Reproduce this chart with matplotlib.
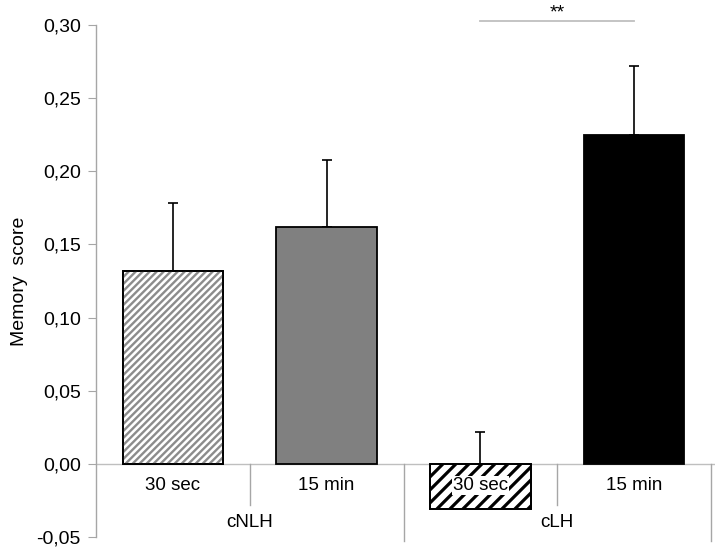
import matplotlib
matplotlib.use("Agg")
import matplotlib.pyplot as plt
from matplotlib.lines import Line2D
from matplotlib.transforms import IdentityTransform
from matplotlib.ticker import FixedLocator, FixedFormatter

plt.rcParams['font.family'] = ['Liberation Sans', 'DejaVu Sans']

# ---- data ----
groups = ["cNLH", "cLH"]
conditions = ["30 sec", "15 min", "30 sec", "15 min"]
values = [0.132, 0.162, -0.031, 0.225]
errors = [0.046, 0.046, 0.053, 0.047]
yticks = [-0.05, 0.00, 0.05, 0.10, 0.15, 0.20, 0.25, 0.30]
ytick_labels = ["-0,05", "0,00", "0,05", "0,10", "0,15", "0,20", "0,25", "0,30"]
sig_pair = (2, 3)
sig_label = "**"

W, H = 715, 553
fig = plt.figure(figsize=(W / 100, H / 100), dpi=100)
ax = fig.add_axes([96 / W, 1 - 537 / H, (711 - 96) / W, (537 - 25) / H])

x = list(range(len(values)))
bw = 0.655

# styles per bar: (facecolor, hatch kind)
styles = [
    ("white", "fine"),
    ("#808080", None),
    ("white", "coarse"),
    ("black", None),
]

ax.set_xlim(-0.5, 3.5)
ax.set_ylim(-0.05, 0.30)

# error bars (drawn beneath bars)
ax.errorbar(x, values, yerr=[[0] * len(values), errors], fmt="none",
            ecolor="black", elinewidth=1.2, capsize=3.6, capthick=1.2, zorder=1)


def stripes(patch, period, lw, color):
    """Draw 45-degree stripes (pixel space) clipped to a bar patch."""
    bb = patch.get_window_extent(renderer=fig.canvas.get_renderer())
    x0, y0, x1, y1 = bb.x0, bb.y0, bb.x1, bb.y1
    h = y1 - y0
    k = x0 - h
    while k < x1 + period:
        ln = Line2D([k, k + h], [y0, y1], color=color, lw=lw,
                    transform=IdentityTransform(), zorder=2.5,
                    solid_capstyle="butt")
        ax.add_artist(ln)
        ln.set_clip_path(patch)
        k += period


for xi, v, (fc, hk) in zip(x, values, styles):
    b = ax.bar(xi, v, width=bw, facecolor=fc, edgecolor="black",
               linewidth=1.3, zorder=2)[0]
    if hk == "fine":
        stripes(b, 7.0, 1.7, "#8c8c8c")
    elif hk == "coarse":
        stripes(b, 13.0, 2.3, "black")
    if hk:
        ax.bar(xi, v, width=bw, facecolor="none", edgecolor="black",
               linewidth=1.3, zorder=3)

# zero line
ax.plot([-0.5, 3.53], [0, 0], color="#bfbfbf", lw=1.0, zorder=0, clip_on=False)

# spines
for s in ["top", "right", "bottom"]:
    ax.spines[s].set_visible(False)
ax.spines["left"].set_color("#a6a6a6")
ax.spines["left"].set_linewidth(1.0)

ax.yaxis.set_major_locator(FixedLocator(yticks))
ax.yaxis.set_major_formatter(FixedFormatter(ytick_labels))
ax.tick_params(axis="y", direction="out", length=6, color="#a6a6a6",
               labelsize=14, pad=5)
ax.set_xticks([])

ax.set_ylabel("Memory  score", fontsize=14, labelpad=6)

# category separators and labels
sep_short = -0.028
sep_long = -0.0525
for bnd in [0.5, 2.5]:
    ax.plot([bnd, bnd], [0, sep_short], color="#a6a6a6", lw=1.0, clip_on=False)
for bnd in [1.5, 3.5]:
    ax.plot([bnd, bnd], [0, sep_long], color="#a6a6a6", lw=1.0, clip_on=False)

for xi, lab in zip(x, conditions):
    ax.text(xi, -0.0147, lab, ha="center", va="center", fontsize=13.5, zorder=5,
            bbox=dict(facecolor="white", edgecolor="none", pad=0.5))
for gi, g in enumerate(groups):
    ax.text(gi * 2 + 0.5, -0.0400, g, ha="center", va="center", fontsize=13.5)

# significance
i, j = sig_pair
ax.plot([i, j], [0.3027, 0.3027], color="#bfbfbf", lw=1.3, clip_on=False)
ax.text((i + j) / 2, 0.3082, sig_label, ha="center", va="center", fontsize=14)

fig.savefig("out.png", dpi=100)
